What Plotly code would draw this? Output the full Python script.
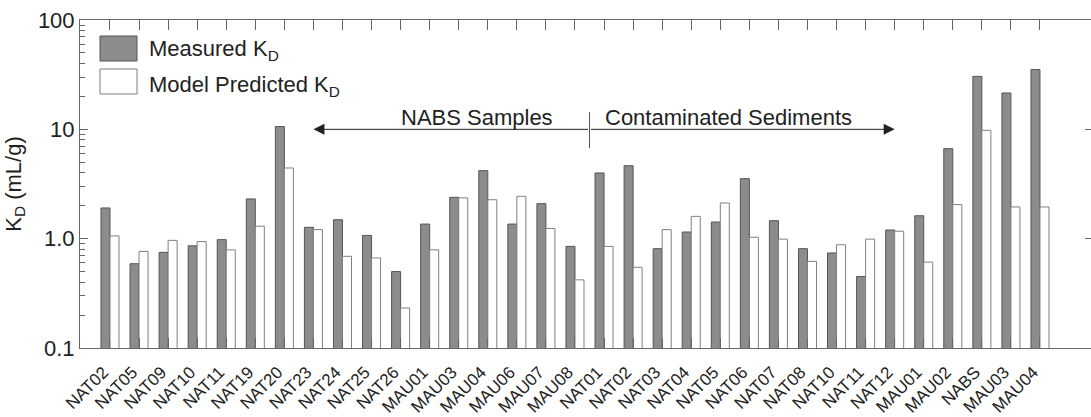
import plotly.graph_objects as go

categories = ["NAT02", "NAT05", "NAT09", "NAT10", "NAT11", "NAT19", "NAT20", "NAT23",
              "NAT24", "NAT25", "NAT26", "MAU01", "MAU03", "MAU04", "MAU06", "MAU07",
              "MAU08", "NAT01", "NAT02", "NAT03", "NAT04", "NAT05", "NAT06", "NAT07",
              "NAT08", "NAT10", "NAT11", "NAT12", "MAU01", "MAU02", "NABS", "MAU03", "MAU04"]
measured = [1.91, 0.59, 0.75, 0.86, 0.98, 2.31, 10.6, 1.27,
            1.49, 1.07, 0.50, 1.36, 2.39, 4.19, 1.36, 2.09,
            0.85, 3.99, 4.65, 0.81, 1.15, 1.42, 3.54, 1.46,
            0.81, 0.74, 0.45, 1.20, 1.62, 6.66, 30.5, 21.5, 35.2]
predicted = [1.06, 0.765, 0.965, 0.94, 0.79, 1.30, 4.43, 1.21,
             0.69, 0.666, 0.232, 0.79, 2.36, 2.27, 2.44, 1.24,
             0.42, 0.85, 0.547, 1.21, 1.60, 2.12, 1.03, 0.99,
             0.62, 0.88, 0.99, 1.17, 0.61, 2.05, 9.8, 1.95, 1.95]
y_tickvals = [0.1, 1, 10, 100]
y_ticktext = ["0.1", "1.0", "10", "100"]

idx = list(range(len(categories)))
FONT = "Liberation Sans, Arial, Helvetica, sans-serif"
TXT = "#222222"
AX = "#666666"
FS = 22
PAD = "\u00a0\u00a0"  # small trailing pad so rotated labels sit a bit left/below their tick
X_RANGE = [-1.032, 33.79]
Y_RANGE = [-1, 2]

fig = go.Figure()
fig.add_trace(go.Bar(x=idx, y=measured, name="Measured K<sub>D</sub>",
                     marker=dict(color="#8c8c8c", line=dict(color="#555555", width=1)),
                     showlegend=False))
fig.add_trace(go.Bar(x=idx, y=predicted, name="Model Predicted K<sub>D</sub>",
                     marker=dict(color="#ffffff", line=dict(color="#808080", width=1)),
                     showlegend=False))
# invisible trace that activates the top/right frame axes
fig.add_trace(go.Scatter(x=idx, y=measured, mode="none", xaxis="x2", yaxis="y2",
                         hoverinfo="skip", showlegend=False))

minor_vals = [m * 10 ** e for e in (-1, 0, 1) for m in range(2, 10)]

W_PLOT = 1012.0  # plot area spans x 80..1092 (right border just outside the window)

fig.update_layout(
    width=1092, height=417,
    margin=dict(l=80, r=0, t=20, b=69),
    paper_bgcolor="white", plot_bgcolor="white",
    barmode="group", bargap=0.38, bargroupgap=0.0,
    font=dict(family=FONT, size=FS, color=TXT),
    xaxis=dict(range=X_RANGE, tickmode="array", tickvals=idx,
               ticktext=[c + PAD for c in categories],
               tickangle=-45, tickfont=dict(size=17, color=TXT), automargin=False,
               showline=True, linecolor=AX, linewidth=1, mirror=False,
               ticks="inside", ticklen=10, tickcolor=AX,
               showgrid=False, zeroline=False),
    xaxis2=dict(range=X_RANGE, overlaying="x", side="top", anchor="y2",
                tickmode="array", tickvals=idx, showticklabels=False,
                showline=True, linecolor=AX, linewidth=1,
                ticks="inside", ticklen=10, tickcolor=AX,
                showgrid=False, zeroline=False, automargin=False),
    yaxis=dict(type="log", range=Y_RANGE, tickmode="array", tickvals=y_tickvals,
               ticktext=y_ticktext, tickfont=dict(size=FS, color=TXT), automargin=False,
               showline=True, linecolor=AX, linewidth=1, mirror=False,
               ticks="inside", ticklen=8, tickcolor=AX,
               minor=dict(tickvals=minor_vals, ticks="inside", ticklen=5, tickcolor=AX,
                          showgrid=False),
               showgrid=False, zeroline=False,
               title=dict(text="K<sub>D</sub> (mL/g)", font=dict(size=FS, color=TXT), standoff=10)),
    yaxis2=dict(type="log", range=Y_RANGE, overlaying="y", side="right", anchor="x2",
                tickmode="array", tickvals=y_tickvals, showticklabels=False,
                ticks="inside", ticklen=7, tickcolor=AX, showline=False,
                showgrid=False, zeroline=False, automargin=False),
)

# Legend drawn manually (large boxes as in the reference)
def px2x(px):
    return (px - 80) / W_PLOT

def py2y(py):
    return (348 - py) / 328.0

fig.add_shape(type="rect", xref="paper", yref="paper",
              x0=px2x(100), x1=px2x(137), y0=py2y(61), y1=py2y(36),
              fillcolor="#8c8c8c", line=dict(color="#555555", width=1))
fig.add_shape(type="rect", xref="paper", yref="paper",
              x0=px2x(100), x1=px2x(137), y0=py2y(94), y1=py2y(69),
              fillcolor="#ffffff", line=dict(color="#808080", width=1))
fig.add_annotation(xref="paper", yref="paper", x=px2x(147), y=py2y(50),
                   xanchor="left", yanchor="middle", showarrow=False,
                   text="Measured K<sub>D</sub>", font=dict(size=FS, color=TXT))
fig.add_annotation(xref="paper", yref="paper", x=px2x(147), y=py2y(86),
                   xanchor="left", yanchor="middle", showarrow=False,
                   text="Model Predicted K<sub>D</sub>", font=dict(size=FS, color=TXT))

# Group arrows (annotation y on a log axis is given as log10 of the value)
y_arrow_log = 1.0
for tip in (7.0, 27.0):
    fig.add_annotation(xref="x", yref="y", axref="x", ayref="y",
                       x=tip, y=y_arrow_log, ax=16.5, ay=y_arrow_log, text="",
                       showarrow=True, arrowhead=2, arrowsize=2.2, arrowwidth=1,
                       arrowcolor="#222222", standoff=0)
fig.add_shape(type="line", xref="x", yref="paper", x0=16.5, x1=16.5,
              y0=py2y(148), y1=py2y(112), line=dict(color="#555555", width=1))
fig.add_annotation(xref="x", yref="y", x=12.63, y=y_arrow_log, yshift=-3,
                   xanchor="center", yanchor="bottom", showarrow=False,
                   text="NABS Samples", font=dict(size=FS, color=TXT))
fig.add_annotation(xref="x", yref="y", x=21.27, y=y_arrow_log, yshift=-3,
                   xanchor="center", yanchor="bottom", showarrow=False,
                   text="Contaminated Sediments", font=dict(size=FS, color=TXT))

# Remove the default 8px page margin so the figure fills the window exactly.
fig.write_html("out.html", config={"displayModeBar": False},
               post_script="document.body.style.margin='0';document.body.style.overflow='hidden';")
